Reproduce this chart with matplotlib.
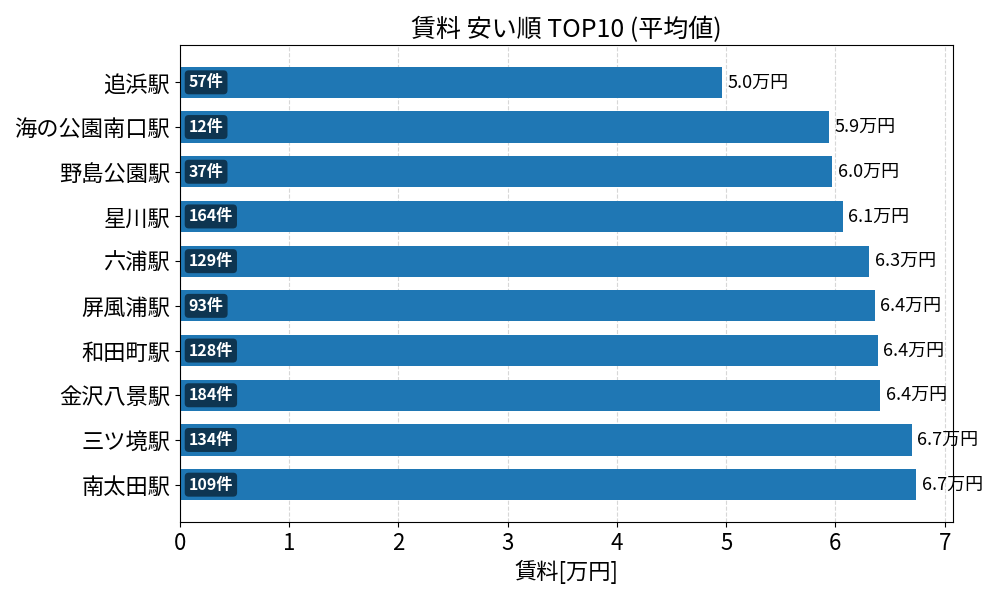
import matplotlib
matplotlib.use("Agg")
import matplotlib.pyplot as plt

plt.rcParams['font.family'] = ['Noto Sans CJK JP', 'DejaVu Sans']

# ---------------- DATA ----------------
stations = ["追浜駅", "海の公園南口駅", "野島公園駅", "星川駅", "六浦駅",
            "屏風浦駅", "和田町駅", "金沢八景駅", "三ツ境駅", "南太田駅"]
rent = [4.96, 5.94, 5.97, 6.07, 6.31, 6.36, 6.39, 6.41, 6.70, 6.74]
counts = [57, 12, 37, 164, 129, 93, 128, 184, 134, 109]

# ---------------- PLOT ----------------
fig, ax = plt.subplots(figsize=(10, 6), dpi=100)

bars = ax.barh(stations, rent, height=0.7, color="#1f77b4", zorder=2)
ax.invert_yaxis()

for i, (v, n) in enumerate(zip(rent, counts)):
    ax.text(v + 0.05, i, f"{v:.1f}万円", va="center", ha="left", fontsize=13)
    ax.text(0.08, i, f"{n}件", va="center", ha="left", fontsize=11.5,
            color="white", fontweight="bold",
            bbox=dict(boxstyle="round,pad=0.25", facecolor="black",
                      alpha=0.55, edgecolor="none"))

ax.set_xlim(0, max(rent) * 1.05)
ax.set_title("賃料 安い順 TOP10 (平均値)", fontsize=18)
ax.set_xlabel("賃料[万円]", fontsize=16)
ax.tick_params(axis="both", labelsize=16)
ax.grid(axis="x", linestyle="--", alpha=0.5, zorder=0)
ax.set_axisbelow(True)

plt.subplots_adjust(left=0.18, right=0.953, top=0.925, bottom=0.13)
plt.savefig("out.png")
